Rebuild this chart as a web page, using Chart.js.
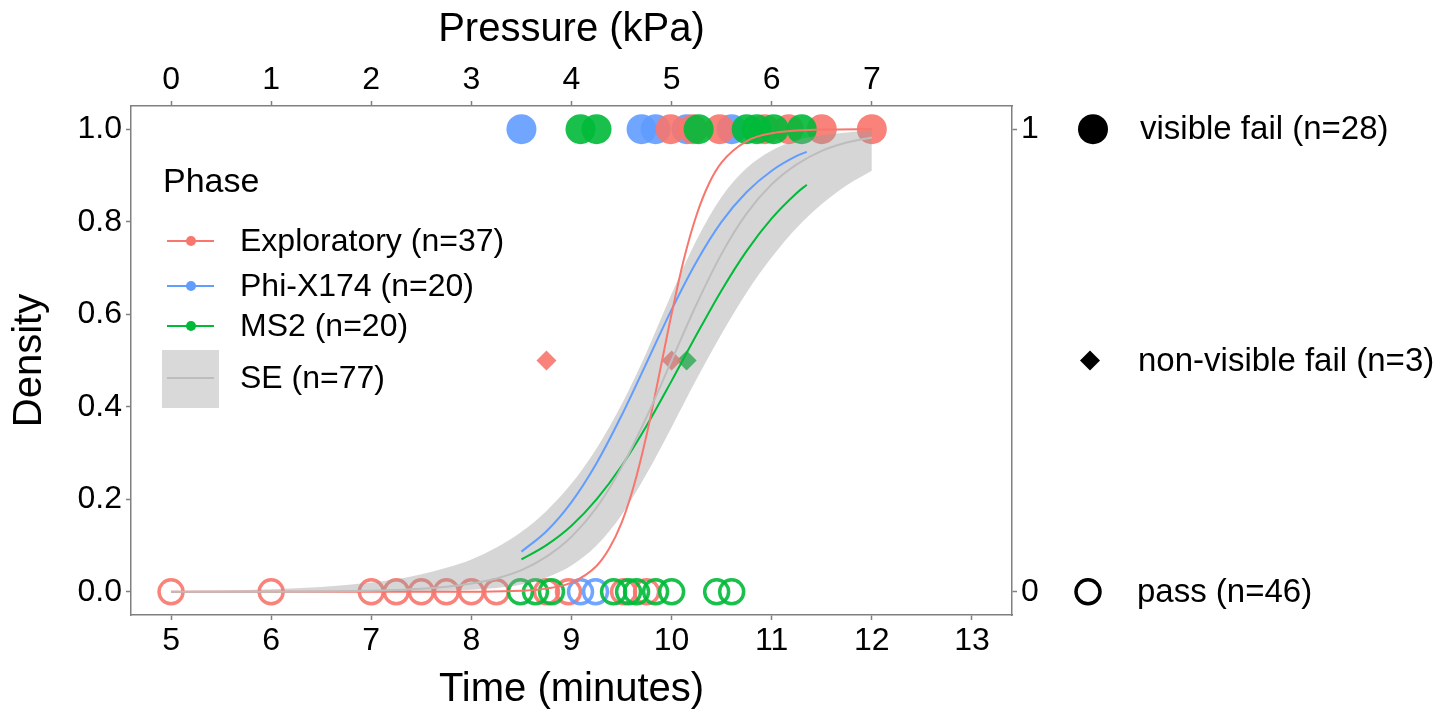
<!DOCTYPE html>
<html><head><meta charset="utf-8">
<script src="https://cdn.jsdelivr.net/npm/chart.js@4.4.1/dist/chart.umd.min.js"></script>
<style>html,body{margin:0;padding:0;background:#fff}#wrap{width:1447px;height:721px;position:relative}</style>
</head><body><div id="wrap"><canvas id="c"></canvas></div>
<script>
// ---------- data ----------
const timeTicks = [5, 6, 7, 8, 9, 10, 11, 12, 13];
const pressureTicks = [0, 1, 2, 3, 4, 5, 6, 7];
const densityTicks = [0, 0.2, 0.4, 0.6, 0.8, 1.0];
const outcomeTicks = [0, 1];

const phaseNames = ['Exploratory (n=37)', 'Phi-X174 (n=20)', 'MS2 (n=20)'];
const seName = 'SE (n=77)';
const outcomeNames = ['visible fail (n=28)', 'non-visible fail (n=3)', 'pass (n=46)'];

// overall fit with SE band
const seTime   = [5, 5.5, 6, 6.5, 7, 7.25, 7.5, 7.75, 8, 8.25, 8.5, 8.75, 9, 9.25, 9.5, 9.75, 10, 10.25, 10.5, 10.75, 11, 11.25, 11.5, 11.75, 12];
const seCenter = [0.0000, 0.0001, 0.0003, 0.0009, 0.0025, 0.0041, 0.0067, 0.011, 0.018, 0.029, 0.047, 0.076, 0.119, 0.182, 0.269, 0.378, 0.500, 0.622, 0.731, 0.818, 0.881, 0.924, 0.953, 0.971, 0.982];
const seUpper  = [0.0015, 0.0029, 0.0055, 0.0105, 0.020, 0.027, 0.038, 0.052, 0.070, 0.096, 0.130, 0.175, 0.234, 0.310, 0.405, 0.518, 0.644, 0.761, 0.854, 0.916, 0.954, 0.976, 0.987, 0.993, 0.997];
const seLower  = [0.0000, 0.0000, 0.0000, 0.0000, 0.0003, 0.0005, 0.0012, 0.0023, 0.0044, 0.0085, 0.016, 0.031, 0.057, 0.100, 0.166, 0.255, 0.356, 0.460, 0.558, 0.647, 0.723, 0.787, 0.838, 0.879, 0.910];

// per-phase fits
const exploratoryTime = [5, 6, 7, 7.5, 8, 8.5, 8.75, 9, 9.25, 9.375, 9.5, 9.625, 9.75, 9.875, 10, 10.125, 10.25, 10.375, 10.5, 10.75, 11, 11.5, 12];
const exploratoryFit  = [0, 0, 0, 0, 0.0003, 0.0024, 0.007, 0.020, 0.056, 0.093, 0.149, 0.231, 0.339, 0.468, 0.601, 0.721, 0.815, 0.883, 0.928, 0.974, 0.991, 0.999, 1.0];
const virusTime = [8.5, 8.75, 9, 9.25, 9.5, 9.75, 10, 10.25, 10.5, 10.75, 11, 11.25, 11.35];
const phiFit    = [0.087, 0.131, 0.194, 0.278, 0.381, 0.495, 0.610, 0.714, 0.800, 0.864, 0.910, 0.942, 0.951];
const ms2Fit    = [0.070, 0.101, 0.143, 0.200, 0.272, 0.359, 0.456, 0.556, 0.652, 0.737, 0.807, 0.862, 0.880];

// observations (time in minutes)
const exploratoryFail = [9.99, 10.21, 10.48, 10.93, 11.17, 11.50, 12.0];
const phiFail = [8.50, 9.70, 9.84, 10.15, 10.60];
const ms2Fail = [9.09, 9.25, 10.27, 10.75, 10.85, 11.02, 11.30];
const exploratoryNonVisible = [8.75, 10.0];
const ms2NonVisible = [10.15];
const exploratoryPass = [5, 6, 7, 7.25, 7.5, 7.75, 8, 8.25, 8.75, 8.97, 9.52, 9.75];
const phiPass = [9.09, 9.24];
const ms2Pass = [8.49, 8.64, 8.80, 9.42, 9.57, 9.65, 9.84, 10.0, 10.45, 10.60];

const FAIL_Y = 1, NONVIS_Y = 0.5, PASS_Y = 0;

// ---------- style ----------
const FONT = "'Liberation Sans', Arial, sans-serif";
const RED = '#F8766D', BLUE = '#619CFF', GREEN = '#00BA38';
const REDA = 'rgba(248,118,109,0.9)', BLUEA = 'rgba(97,156,255,0.9)', GREENA = 'rgba(0,186,56,0.9)';
const AX = '#808080';

const pts = (arr, y) => arr.map(t => ({x: t, y: y}));
const line = (xs, ys) => xs.map((t, i) => ({x: t, y: ys[i]}));

function curve(data, color, width, order) {
  return {data, showLine: true, borderColor: color, borderWidth: width, pointRadius: 0,
          backgroundColor: color, fill: false, cubicInterpolationMode: 'monotone', order};
}
function filled(data, color, order) {
  return {data, showLine: false, pointStyle: 'circle', pointRadius: 15, backgroundColor: color,
          borderWidth: 0, order};
}
function open(data, color, order) {
  return {data, showLine: false, pointStyle: 'circle', pointRadius: 12, backgroundColor: 'rgba(0,0,0,0)',
          borderColor: color, borderWidth: 3.5, order};
}
function diamond(data, color, order) {
  return {data, showLine: false, pointStyle: 'rectRot', pointRadius: 10, backgroundColor: color,
          borderWidth: 0, order};
}

const datasets = [
  curve(line(seTime, seCenter), '#BDBDBD', 2, 0),
  curve(line(exploratoryTime, exploratoryFit), RED, 2, 0),
  curve(line(virusTime, phiFit), BLUE, 2, 0),
  curve(line(virusTime, ms2Fit), GREEN, 2, 0),
  {data: line(seTime, seUpper), showLine: true, borderWidth: 0, borderColor: 'rgba(0,0,0,0)', pointRadius: 0,
   fill: false, cubicInterpolationMode: 'monotone', order: 2},
  {data: line(seTime, seLower), showLine: true, borderWidth: 0, borderColor: 'rgba(0,0,0,0)', pointRadius: 0,
   fill: '-1', backgroundColor: 'rgba(153,153,153,0.4)', cubicInterpolationMode: 'monotone', order: 2},
  diamond(pts(exploratoryNonVisible, NONVIS_Y), REDA, 3),
  diamond(pts(ms2NonVisible, NONVIS_Y), GREENA, 3),
  filled(pts(ms2Fail, FAIL_Y), GREENA, 4),
  filled(pts(exploratoryFail, FAIL_Y), REDA, 5),
  filled(pts(phiFail, FAIL_Y), BLUEA, 6),
  open(pts(ms2Pass, PASS_Y), GREENA, 4),
  open(pts(phiPass, PASS_Y), BLUEA, 5),
  open(pts(exploratoryPass, PASS_Y), REDA, 6),
];

const tickFont = {family: FONT, size: 32};
const titleFont = {family: FONT, size: 40, lineHeight: 1.2};
const gridCfg = {display: true, drawOnChartArea: false, drawTicks: true, tickLength: 5, color: AX, tickColor: AX, tickWidth: 1.5};
const borderCfg = {display: true, color: AX, width: 1.5};
const setTicks = arr => s => { s.ticks = arr.map(v => ({value: v})); };

const phaseLegend = {
  id: 'phaseLegend',
  afterDraw(chart) {
    const ctx = chart.ctx;
    ctx.save();
    ctx.fillStyle = '#000';
    ctx.textAlign = 'left';
    ctx.textBaseline = 'alphabetic';
    ctx.font = `34px ${FONT}`;
    ctx.fillText('Phase', 163, 192);
    const rows = [[phaseNames[0], RED, 241], [phaseNames[1], BLUE, 286], [phaseNames[2], GREEN, 326]];
    ctx.font = `32px ${FONT}`;
    ctx.textBaseline = 'middle';
    rows.forEach(([txt, col, y]) => {
      ctx.strokeStyle = col; ctx.lineWidth = 2;
      ctx.beginPath(); ctx.moveTo(167, y); ctx.lineTo(214, y); ctx.stroke();
      ctx.fillStyle = col; ctx.beginPath(); ctx.arc(191, y, 5, 0, Math.PI * 2); ctx.fill();
      ctx.fillStyle = '#000'; ctx.fillText(txt, 240, y + 1);
    });
    ctx.fillStyle = '#D9D9D9';
    ctx.fillRect(162, 350, 57, 58);
    ctx.strokeStyle = '#BDBDBD'; ctx.lineWidth = 2;
    ctx.beginPath(); ctx.moveTo(167, 378); ctx.lineTo(214, 378); ctx.stroke();
    ctx.fillStyle = '#000'; ctx.fillText(seName, 240, 379);
    ctx.restore();
  }
};

const outcomeLegend = {
  id: 'outcomeLegend',
  afterDraw(chart) {
    const ctx = chart.ctx, y = chart.scales.y;
    const y1 = y.getPixelForValue(FAIL_Y), y5 = y.getPixelForValue(NONVIS_Y), y0 = y.getPixelForValue(PASS_Y);
    ctx.save();
    ctx.fillStyle = '#000'; ctx.strokeStyle = '#000';
    ctx.beginPath(); ctx.arc(1093, y1, 15, 0, Math.PI * 2); ctx.fill();
    ctx.beginPath(); ctx.moveTo(1090, y5 - 10); ctx.lineTo(1100, y5); ctx.lineTo(1090, y5 + 10); ctx.lineTo(1080, y5); ctx.closePath(); ctx.fill();
    ctx.lineWidth = 3.5; ctx.beginPath(); ctx.arc(1088, y0, 12, 0, Math.PI * 2); ctx.stroke();
    ctx.font = `33px ${FONT}`; ctx.textAlign = 'left'; ctx.textBaseline = 'middle';
    ctx.fillText(outcomeNames[0], 1140, y1 + 1);
    ctx.fillText(outcomeNames[1], 1138, y5 + 1);
    ctx.fillText(outcomeNames[2], 1137, y0 + 1);
    ctx.restore();
  }
};

new Chart(document.getElementById('c'), {
  type: 'scatter',
  data: {datasets},
  plugins: [phaseLegend, outcomeLegend],
  options: {
    responsive: true, maintainAspectRatio: false, animation: false, events: [],
    layout: {padding: 0},
    plugins: {legend: {display: false}, tooltip: {enabled: false}, title: {display: false}},
    scales: {
      x: {
        type: 'linear', position: 'bottom', min: 4.6, max: 13.4, bounds: 'data',
        afterBuildTicks: setTicks(timeTicks),
        afterFit: s => { s.height = 106; },
        grid: gridCfg, border: borderCfg,
        ticks: {font: tickFont, color: '#000', padding: 2, maxRotation: 0, autoSkip: false, callback: v => String(v)},
        title: {display: true, text: 'Time (minutes)', font: titleFont, color: '#000', padding: {top: 0, bottom: 7}}
      },
      x2: {
        type: 'linear', position: 'top', min: -0.4, max: 8.4, bounds: 'data',
        afterBuildTicks: setTicks(pressureTicks),
        afterFit: s => { s.height = 106; },
        grid: gridCfg, border: borderCfg,
        ticks: {font: tickFont, color: '#000', padding: 2, maxRotation: 0, autoSkip: false, callback: v => String(v)},
        title: {display: true, text: 'Pressure (kPa)', font: titleFont, color: '#000', padding: {top: 6, bottom: 0}}
      },
      y: {
        type: 'linear', position: 'left', min: -0.05, max: 1.05, bounds: 'data',
        afterBuildTicks: setTicks(densityTicks),
        afterFit: s => { s.width = 131; },
        grid: gridCfg, border: borderCfg,
        ticks: {font: tickFont, color: '#000', padding: 4, autoSkip: false, callback: v => Number(v).toFixed(1)},
        title: {display: true, text: 'Density', font: titleFont, color: '#000', padding: {top: 6, bottom: 0}}
      },
      y2: {
        type: 'linear', position: 'right', min: -0.05, max: 1.05, bounds: 'data',
        afterBuildTicks: setTicks(outcomeTicks),
        afterFit: s => { s.width = 435; },
        grid: gridCfg, border: borderCfg,
        ticks: {font: tickFont, color: '#000', padding: 4, autoSkip: false, callback: v => String(v)}
      }
    }
  }
});
</script></body></html>
